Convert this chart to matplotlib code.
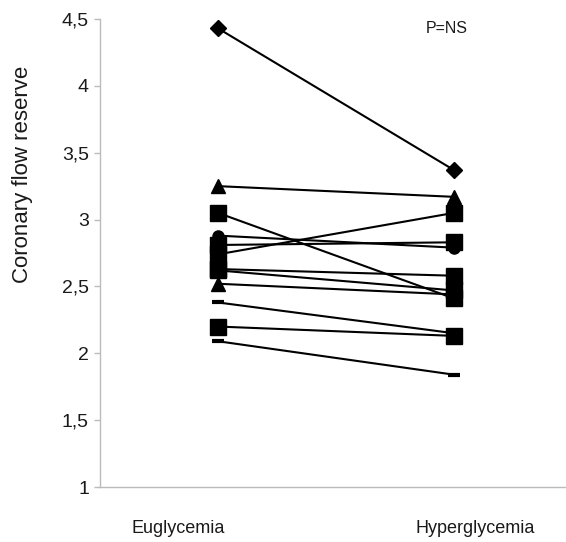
import matplotlib
matplotlib.use("Agg")
import matplotlib.pyplot as plt
from matplotlib.transforms import ScaledTranslation

plt.rcParams["font.family"] = ["Liberation Sans", "DejaVu Sans"]

# conditions on the x axis
conditions = ["Euglycemia", "Hyperglycemia"]

# coronary flow reserve per subject, one value per condition
euglycemia = [4.43, 3.25, 3.05, 2.88, 2.81, 2.74, 2.63, 2.62, 2.52, 2.38, 2.20, 2.09]
hyperglycemia = [3.37, 3.17, 2.41, 2.79, 2.83, 3.05, 2.58, 2.47, 2.44, 2.15, 2.13, 1.84]
markers = ["D", "^", "s", "o", "s", "s", "s", "s", "^", "_", "s", "_"]

y_ticks = [1, 1.5, 2, 2.5, 3, 3.5, 4, 4.5]
y_tick_labels = ["1", "1,5", "2", "2,5", "3", "3,5", "4", "4,5"]

marker_sizes = {"D": 8.5, "^": 9.5, "s": 11.5, "o": 8, "_": 8}

fig = plt.figure(figsize=(5.66, 5.42), dpi=100)
ax = fig.add_axes([100 / 566, 55 / 542, 472 / 566, 468 / 542])

x = list(range(len(conditions)))
for eu, hy, m in zip(euglycemia, hyperglycemia, markers):
    ax.plot(x, [eu, hy], color="black", lw=1.5, marker=m,
            markersize=marker_sizes[m], markeredgewidth=3 if m == "_" else 1,
            markerfacecolor="black", markeredgecolor="black", clip_on=False)

ax.set_xlim(-0.5, 1.5)
ax.set_ylim(1, 4.5)
ax.set_yticks(y_ticks)
ax.set_yticklabels(y_tick_labels, fontsize=14, color="#1a1a1a")
ax.set_xticks(x)
ax.set_xticklabels(conditions, fontsize=13, color="#1a1a1a")
ax.tick_params(axis="x", length=0, pad=24)
ax.tick_params(axis="y", length=4, width=1, color="#bbbbbb", pad=4)

# category labels sit slightly off the marker columns in the original
offsets = [-40, 21]
for lbl, dx in zip(ax.get_xticklabels(), offsets):
    lbl.set_transform(lbl.get_transform() + ScaledTranslation(dx / 100, 0, fig.dpi_scale_trans))

for side in ["top", "right"]:
    ax.spines[side].set_visible(False)
for side in ["left", "bottom"]:
    ax.spines[side].set_color("#bbbbbb")
    ax.spines[side].set_linewidth(1)

ax.set_ylabel("Coronary flow reserve", fontsize=16, color="#1a1a1a")
ax.yaxis.set_label_coords(-0.142, 0.667)
ax.text(0.735, 0.979, "P=NS", transform=ax.transAxes, fontsize=11.5,
        ha="center", va="center", color="#1a1a1a")

fig.savefig("out.png", dpi=100)
